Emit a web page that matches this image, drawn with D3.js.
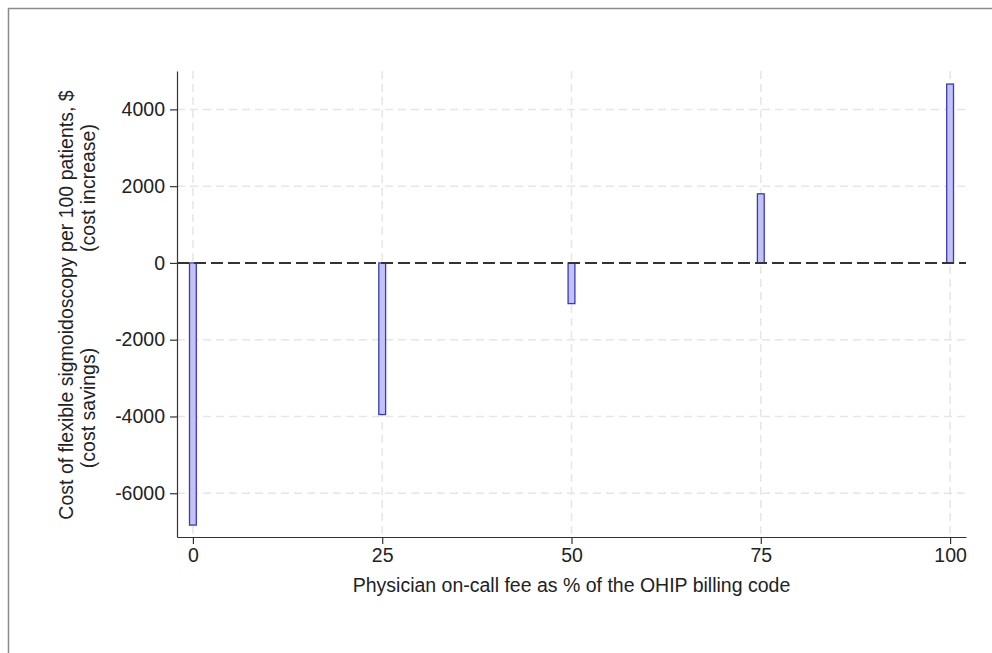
<!DOCTYPE html>
<html>
<head>
<meta charset="utf-8">
<script src="https://cdn.jsdelivr.net/npm/d3@7"></script>
<style>
  body { margin: 0; background: #fff; }
  text { font-family: "Liberation Sans", Arial, Helvetica, sans-serif; fill: #222; }
  .axis path, .axis line { stroke: #333; stroke-width: 1.2; }
  .axis text { font-family: "Liberation Sans", Arial, Helvetica, sans-serif; font-size: 19.5px; fill: #222; }
  .grid { stroke: #e6e6e6; stroke-width: 1.5; stroke-dasharray: 8,5; }
  .zeroLine { stroke: #333; stroke-width: 2; stroke-dasharray: 12,5; }
  .bar { fill: #c2c2f6; stroke: #3a3ab8; stroke-width: 1.3; }
  .title { font-size: 19.5px; }
</style>
</head>
<body>
<div id="chart"></div>
<script>
var feePct = [0, 25, 50, 75, 100];
var costDiff = [-6830, -3950, -1060, 1800, 4660];
var xTicks = [0, 25, 50, 75, 100];
var yTicks = [-6000, -4000, -2000, 0, 2000, 4000];

var width = 992, height = 653;
var margin = {top: 71, right: 26, bottom: 116, left: 177},
    w = width - margin.left - margin.right,
    h = height - margin.top - margin.bottom;

var x = d3.scaleLinear().domain([-2.1, 102.1]).range([0, w]),
    y = d3.scaleLinear().domain([-7140, 5000]).range([h, 0]);

var barHalf = 0.45;

var svg = d3.select("#chart").append("svg")
    .attr("width", width)
    .attr("height", height);

// outer frame (only top and left edges fall inside the picture)
svg.append("rect")
    .attr("x", 8.5).attr("y", 8.5)
    .attr("width", width + 20).attr("height", height + 20)
    .attr("fill", "none").attr("stroke", "#8a8a8a").attr("stroke-width", 1.5);

var g = svg.append("g")
    .attr("transform", "translate(" + margin.left + "," + margin.top + ")");

// grid
g.selectAll("line.hgrid")
    .data(yTicks.filter(function(d) { return d !== 0; }))
    .enter().append("line")
    .attr("class", "grid")
    .attr("x1", 0).attr("x2", w)
    .attr("y1", function(d) { return y(d); })
    .attr("y2", function(d) { return y(d); });

g.selectAll("line.vgrid")
    .data(xTicks)
    .enter().append("line")
    .attr("class", "grid")
    .attr("y1", 0).attr("y2", h)
    .attr("x1", function(d) { return x(d); })
    .attr("x2", function(d) { return x(d); });

// bars
g.selectAll("rect.bar")
    .data(feePct)
    .enter().append("rect")
    .attr("class", "bar")
    .attr("x", function(d) { return x(d - barHalf); })
    .attr("width", function(d) { return x(d + barHalf) - x(d - barHalf); })
    .attr("y", function(d, i) { return y(Math.max(0, costDiff[i])); })
    .attr("height", function(d, i) { return Math.abs(y(costDiff[i]) - y(0)); });

// zero line
g.append("line")
    .attr("class", "zeroLine")
    .attr("x1", 0).attr("x2", w)
    .attr("y1", y(0)).attr("y2", y(0));

// axes
var fmt = function(d) { return String(d); };
var xAxis = d3.axisBottom(x).tickValues(xTicks).tickFormat(fmt).tickSize(7).tickPadding(4).tickSizeOuter(0);
var yAxis = d3.axisLeft(y).tickValues(yTicks).tickFormat(fmt).tickSize(7).tickPadding(5).tickSizeOuter(0);

g.append("g")
    .attr("class", "x axis")
    .attr("transform", "translate(0," + h + ")")
    .call(xAxis);

g.append("g")
    .attr("class", "y axis")
    .call(yAxis);

// titles
svg.append("text")
    .attr("class", "title")
    .attr("x", margin.left + w / 2)
    .attr("y", 592)
    .attr("text-anchor", "middle")
    .text("Physician on-call fee as % of the OHIP billing code");

svg.append("text")
    .attr("class", "title")
    .attr("transform", "translate(66,305) rotate(-90)")
    .attr("dy", "0.35em")
    .attr("text-anchor", "middle")
    .text("Cost of flexible sigmoidoscopy per 100 patients, $");

svg.append("text")
    .attr("class", "title")
    .attr("transform", "translate(88,188) rotate(-90)")
    .attr("dy", "0.35em")
    .attr("text-anchor", "middle")
    .text("(cost increase)");

svg.append("text")
    .attr("class", "title")
    .attr("transform", "translate(88,408) rotate(-90)")
    .attr("dy", "0.35em")
    .attr("text-anchor", "middle")
    .text("(cost savings)");
</script>
</body>
</html>
